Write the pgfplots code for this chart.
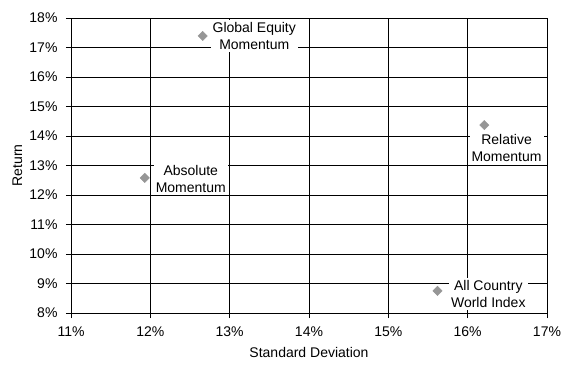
\documentclass[border=0pt]{standalone}
\usepackage{fontspec}
\setmainfont{Liberation Sans}
\usepackage{pgfplots}
\pgfplotsset{compat=1.18}
\definecolor{mk}{RGB}{150,150,150}
\begin{document}
\begin{tikzpicture}[font=\fontsize{14bp}{17bp}\selectfont]
\begin{axis}[
  scale only axis, width=476bp, height=295bp,
  xmin=11, xmax=17, ymin=8, ymax=18,
  xtick={11,12,13,14,15,16,17},
  xticklabels={11\%,12\%,13\%,14\%,15\%,16\%,17\%},
  ytick={8,9,10,11,12,13,14,15,16,17,18},
  yticklabels={8\%,9\%,10\%,11\%,12\%,13\%,14\%,15\%,16\%,17\%,18\%},
  yticklabel style={xshift=-5bp},
  xticklabel style={yshift=-5bp},
  grid=major,
  major grid style={black, line width=0.8bp},
  axis line style={black, line width=0.8bp},
  tick style={black, line width=0.8bp},
  tick align=outside, tick pos=left, major tick length=5bp,
  xlabel={Standard Deviation}, ylabel={Return},
  every axis y label/.style={at={([xshift=-53.5bp]axis description cs:0,0.5)}, rotate=90, anchor=center},
  every axis x label/.style={at={([yshift=-44bp]axis description cs:0.5,0)}, anchor=base},
  clip=false,
]
\coordinate (sw) at (rel axis cs:0,0);
\coordinate (ne) at (rel axis cs:1,1);
\addplot[mk, only marks, mark=square*, mark size=3.3bp, mark options={rotate=45, fill=mk, draw=mk}]
  coordinates {(12.66,17.39) (11.93,12.58) (16.21,14.37) (15.62,8.75)};
\node[fill=white, inner sep=2bp, align=center] at (axis cs:13.31,17.39) {Global Equity\\Momentum};
\node[fill=white, inner sep=2bp, align=center] at (axis cs:12.51,12.53) {Absolute\\Momentum};
\node[fill=white, inner sep=2bp, align=center] at (axis cs:16.49,13.59) {Relative\\Momentum};
\node[fill=white, inner sep=2bp, align=center] at (axis cs:16.26,8.64) {All Country\\World Index};
\end{axis}
\pgfresetboundingbox
\path ([shift={(-71bp,-56bp)}]sw) rectangle ([shift={(23bp,18bp)}]ne);
\end{tikzpicture}
\end{document}
